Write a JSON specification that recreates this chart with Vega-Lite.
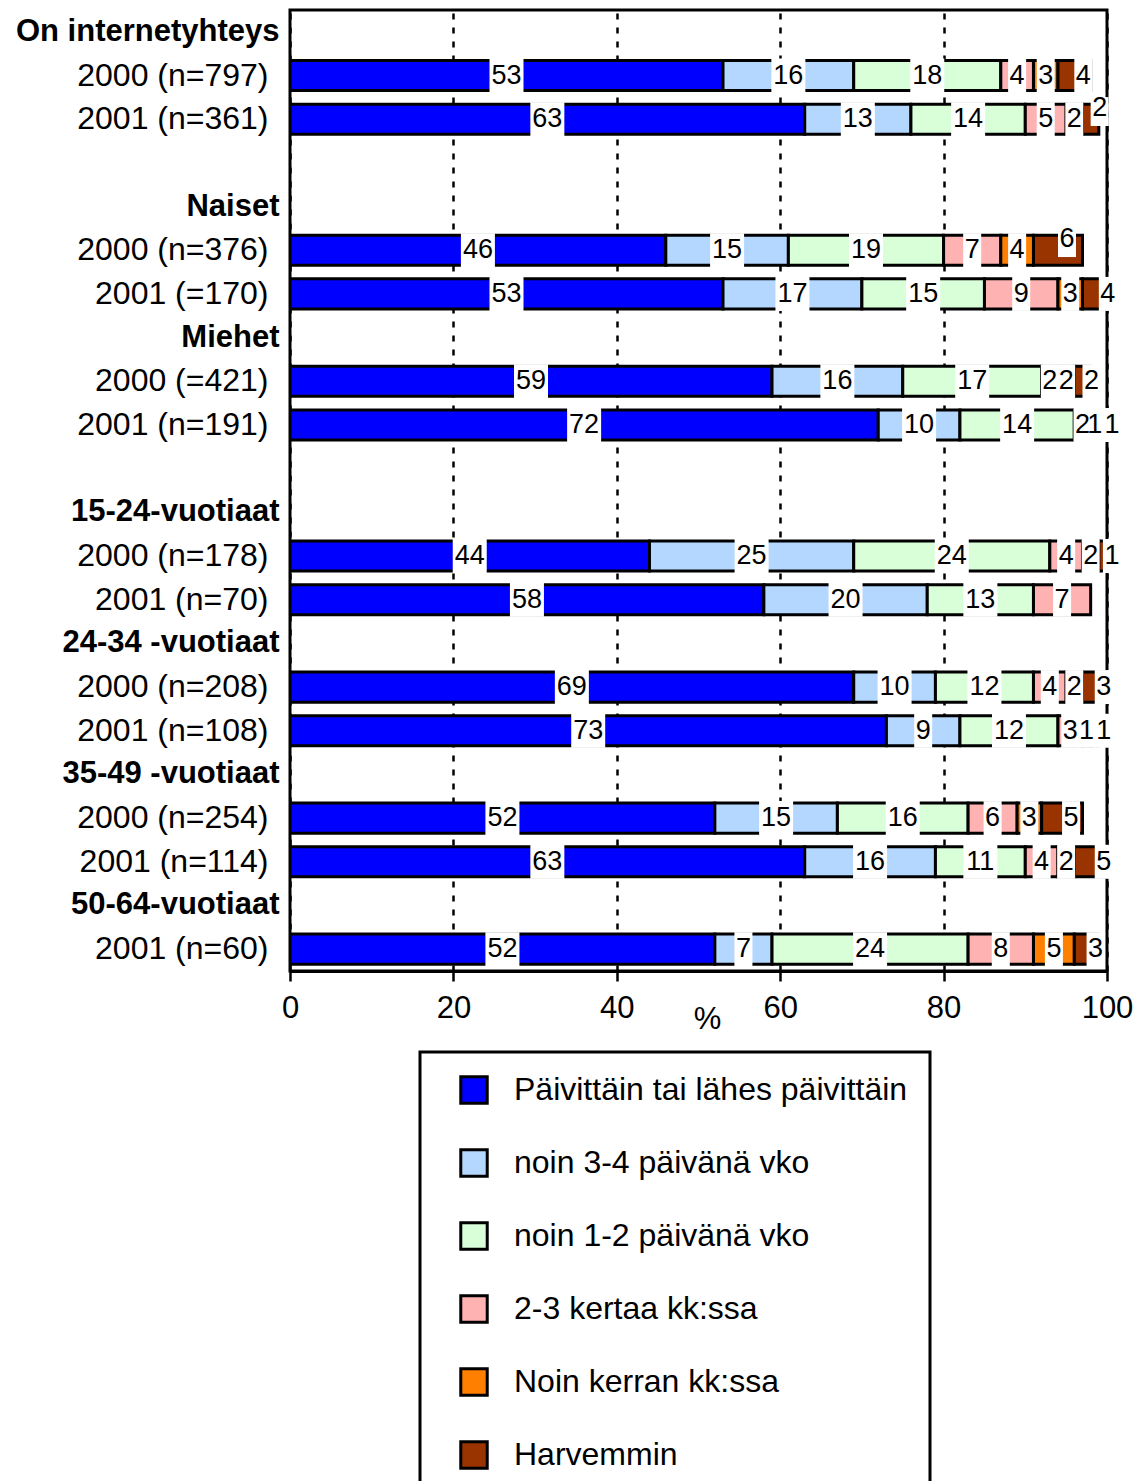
{
  "$schema": "https://vega.github.io/schema/vega-lite/v6.json",
  "autosize": {"type": "none"},
  "padding": {"left": 290, "top": 10, "right": 28, "bottom": 510},
  "width": 817,
  "height": 961,
  "background": "white",
  "config": {
    "font": "Liberation Sans",
    "view": {"stroke": "black", "strokeWidth": 3},
    "legend": {"strokeColor": "black", "strokeWidth": 3}
  },
  "data": {
    "values": [
      {"r": "2000 (n=797)", "k": 1, "c": "Päivittäin tai lähes päivittäin", "v": 53},
      {"r": "2000 (n=797)", "k": 2, "c": "noin 3-4 päivänä vko", "v": 16},
      {"r": "2000 (n=797)", "k": 3, "c": "noin 1-2 päivänä vko", "v": 18},
      {"r": "2000 (n=797)", "k": 4, "c": "2-3 kertaa kk:ssa", "v": 4},
      {"r": "2000 (n=797)", "k": 5, "c": "Noin kerran kk:ssa", "v": 3},
      {"r": "2000 (n=797)", "k": 6, "c": "Harvemmin", "v": 4},
      {"r": "2001 (n=361)", "k": 1, "c": "Päivittäin tai lähes päivittäin", "v": 63},
      {"r": "2001 (n=361)", "k": 2, "c": "noin 3-4 päivänä vko", "v": 13},
      {"r": "2001 (n=361)", "k": 3, "c": "noin 1-2 päivänä vko", "v": 14},
      {"r": "2001 (n=361)", "k": 4, "c": "2-3 kertaa kk:ssa", "v": 5},
      {"r": "2001 (n=361)", "k": 5, "c": "Noin kerran kk:ssa", "v": 2},
      {"r": "2001 (n=361)", "k": 6, "c": "Harvemmin", "v": 2},
      {"r": "2000 (n=376)", "k": 1, "c": "Päivittäin tai lähes päivittäin", "v": 46},
      {"r": "2000 (n=376)", "k": 2, "c": "noin 3-4 päivänä vko", "v": 15},
      {"r": "2000 (n=376)", "k": 3, "c": "noin 1-2 päivänä vko", "v": 19},
      {"r": "2000 (n=376)", "k": 4, "c": "2-3 kertaa kk:ssa", "v": 7},
      {"r": "2000 (n=376)", "k": 5, "c": "Noin kerran kk:ssa", "v": 4},
      {"r": "2000 (n=376)", "k": 6, "c": "Harvemmin", "v": 6},
      {"r": "2001 (=170)", "k": 1, "c": "Päivittäin tai lähes päivittäin", "v": 53},
      {"r": "2001 (=170)", "k": 2, "c": "noin 3-4 päivänä vko", "v": 17},
      {"r": "2001 (=170)", "k": 3, "c": "noin 1-2 päivänä vko", "v": 15},
      {"r": "2001 (=170)", "k": 4, "c": "2-3 kertaa kk:ssa", "v": 9},
      {"r": "2001 (=170)", "k": 5, "c": "Noin kerran kk:ssa", "v": 3},
      {"r": "2001 (=170)", "k": 6, "c": "Harvemmin", "v": 4},
      {"r": "2000 (=421)", "k": 1, "c": "Päivittäin tai lähes päivittäin", "v": 59},
      {"r": "2000 (=421)", "k": 2, "c": "noin 3-4 päivänä vko", "v": 16},
      {"r": "2000 (=421)", "k": 3, "c": "noin 1-2 päivänä vko", "v": 17},
      {"r": "2000 (=421)", "k": 4, "c": "2-3 kertaa kk:ssa", "v": 2},
      {"r": "2000 (=421)", "k": 5, "c": "Noin kerran kk:ssa", "v": 2},
      {"r": "2000 (=421)", "k": 6, "c": "Harvemmin", "v": 2},
      {"r": "2001 (n=191)", "k": 1, "c": "Päivittäin tai lähes päivittäin", "v": 72},
      {"r": "2001 (n=191)", "k": 2, "c": "noin 3-4 päivänä vko", "v": 10},
      {"r": "2001 (n=191)", "k": 3, "c": "noin 1-2 päivänä vko", "v": 14},
      {"r": "2001 (n=191)", "k": 4, "c": "2-3 kertaa kk:ssa", "v": 2},
      {"r": "2001 (n=191)", "k": 5, "c": "Noin kerran kk:ssa", "v": 1},
      {"r": "2001 (n=191)", "k": 6, "c": "Harvemmin", "v": 1},
      {"r": "2000 (n=178)", "k": 1, "c": "Päivittäin tai lähes päivittäin", "v": 44},
      {"r": "2000 (n=178)", "k": 2, "c": "noin 3-4 päivänä vko", "v": 25},
      {"r": "2000 (n=178)", "k": 3, "c": "noin 1-2 päivänä vko", "v": 24},
      {"r": "2000 (n=178)", "k": 4, "c": "2-3 kertaa kk:ssa", "v": 4},
      {"r": "2000 (n=178)", "k": 5, "c": "Noin kerran kk:ssa", "v": 2},
      {"r": "2000 (n=178)", "k": 6, "c": "Harvemmin", "v": 1},
      {"r": "2001 (n=70)", "k": 1, "c": "Päivittäin tai lähes päivittäin", "v": 58},
      {"r": "2001 (n=70)", "k": 2, "c": "noin 3-4 päivänä vko", "v": 20},
      {"r": "2001 (n=70)", "k": 3, "c": "noin 1-2 päivänä vko", "v": 13},
      {"r": "2001 (n=70)", "k": 4, "c": "2-3 kertaa kk:ssa", "v": 7},
      {"r": "2000 (n=208)", "k": 1, "c": "Päivittäin tai lähes päivittäin", "v": 69},
      {"r": "2000 (n=208)", "k": 2, "c": "noin 3-4 päivänä vko", "v": 10},
      {"r": "2000 (n=208)", "k": 3, "c": "noin 1-2 päivänä vko", "v": 12},
      {"r": "2000 (n=208)", "k": 4, "c": "2-3 kertaa kk:ssa", "v": 4},
      {"r": "2000 (n=208)", "k": 5, "c": "Noin kerran kk:ssa", "v": 2},
      {"r": "2000 (n=208)", "k": 6, "c": "Harvemmin", "v": 3},
      {"r": "2001 (n=108)", "k": 1, "c": "Päivittäin tai lähes päivittäin", "v": 73},
      {"r": "2001 (n=108)", "k": 2, "c": "noin 3-4 päivänä vko", "v": 9},
      {"r": "2001 (n=108)", "k": 3, "c": "noin 1-2 päivänä vko", "v": 12},
      {"r": "2001 (n=108)", "k": 4, "c": "2-3 kertaa kk:ssa", "v": 3},
      {"r": "2001 (n=108)", "k": 5, "c": "Noin kerran kk:ssa", "v": 1},
      {"r": "2001 (n=108)", "k": 6, "c": "Harvemmin", "v": 1},
      {"r": "2000 (n=254)", "k": 1, "c": "Päivittäin tai lähes päivittäin", "v": 52},
      {"r": "2000 (n=254)", "k": 2, "c": "noin 3-4 päivänä vko", "v": 15},
      {"r": "2000 (n=254)", "k": 3, "c": "noin 1-2 päivänä vko", "v": 16},
      {"r": "2000 (n=254)", "k": 4, "c": "2-3 kertaa kk:ssa", "v": 6},
      {"r": "2000 (n=254)", "k": 5, "c": "Noin kerran kk:ssa", "v": 3},
      {"r": "2000 (n=254)", "k": 6, "c": "Harvemmin", "v": 5},
      {"r": "2001 (n=114)", "k": 1, "c": "Päivittäin tai lähes päivittäin", "v": 63},
      {"r": "2001 (n=114)", "k": 2, "c": "noin 3-4 päivänä vko", "v": 16},
      {"r": "2001 (n=114)", "k": 3, "c": "noin 1-2 päivänä vko", "v": 11},
      {"r": "2001 (n=114)", "k": 4, "c": "2-3 kertaa kk:ssa", "v": 4},
      {"r": "2001 (n=114)", "k": 5, "c": "Noin kerran kk:ssa", "v": 2},
      {"r": "2001 (n=114)", "k": 6, "c": "Harvemmin", "v": 5},
      {"r": "2001 (n=60)", "k": 1, "c": "Päivittäin tai lähes päivittäin", "v": 52},
      {"r": "2001 (n=60)", "k": 2, "c": "noin 3-4 päivänä vko", "v": 7},
      {"r": "2001 (n=60)", "k": 3, "c": "noin 1-2 päivänä vko", "v": 24},
      {"r": "2001 (n=60)", "k": 4, "c": "2-3 kertaa kk:ssa", "v": 8},
      {"r": "2001 (n=60)", "k": 5, "c": "Noin kerran kk:ssa", "v": 5},
      {"r": "2001 (n=60)", "k": 6, "c": "Harvemmin", "v": 3}
    ]
  },
  "encoding": {
    "y": {
      "field": "r",
      "type": "nominal",
      "title": null,
      "scale": {
        "domain": ["On internetyhteys", "2000 (n=797)", "2001 (n=361)", " ", "Naiset", "2000 (n=376)", "2001 (=170)", "Miehet", "2000 (=421)", "2001 (n=191)", "  ", "15-24-vuotiaat", "2000 (n=178)", "2001 (n=70)", "24-34 -vuotiaat", "2000 (n=208)", "2001 (n=108)", "35-49 -vuotiaat", "2000 (n=254)", "2001 (n=114)", "50-64-vuotiaat", "2001 (n=60)"],
        "paddingInner": 0.31,
        "paddingOuter": 0.155
      },
      "axis": {
        "domain": false,
        "ticks": false,
        "grid": false,
        "labelColor": "black",
        "labelLimit": 400,
        "labelFontSize": {"condition": {"test": "indexof(datum.value, '(') < 0", "value": 31}, "value": 32},
        "labelFontWeight": {"condition": {"test": "indexof(datum.value, '(') < 0", "value": "bold"}, "value": "normal"},
        "labelPadding": {"condition": {"test": "indexof(datum.value, '(') < 0", "value": 11}, "value": 22}
      }
    }
  },
  "layer": [
    {
      "mark": {"type": "bar", "stroke": "black", "strokeWidth": 3, "clip": true},
      "encoding": {
        "x": {
          "field": "v",
          "type": "quantitative",
          "stack": "zero",
          "scale": {"domain": [0, 100]},
          "axis": {
            "title": "%",
            "titleFontSize": 31,
            "titleFontWeight": "normal",
            "titleColor": "black",
            "titlePadding": -19,
            "titleX": 417,
            "values": [0, 20, 40, 60, 80, 100],
            "labelFontSize": 31,
            "labelColor": "black",
            "labelPadding": 12,
            "labelFlush": false,
            "labelOverlap": false,
            "tickSize": 10,
            "tickWidth": 2.5,
            "tickColor": "black",
            "domainColor": "black",
            "domainWidth": 3,
            "grid": true,
            "gridColor": "black",
            "gridDash": [6, 8],
            "gridWidth": 2.5
          }
        },
        "order": {"field": "k", "type": "quantitative"},
        "color": {
          "field": "c",
          "type": "nominal",
          "scale": {
            "domain": ["Päivittäin tai lähes päivittäin", "noin 3-4 päivänä vko", "noin 1-2 päivänä vko", "2-3 kertaa kk:ssa", "Noin kerran kk:ssa", "Harvemmin"],
            "range": ["#0000FF", "#B3D7FF", "#D9FFD9", "#FFB2B2", "#FF8000", "#993300"]
          },
          "legend": {
            "title": null,
            "orient": "none",
            "legendX": 130,
            "legendY": 1042,
            "direction": "vertical",
            "padding": 22,
            "strokeColor": "black",
            "symbolType": "square",
            "symbolSize": 700,
            "symbolStrokeWidth": 3,
            "symbolStrokeColor": "black",
            "symbolOffset": 16,
            "labelFontSize": 32,
            "labelColor": "black",
            "labelOffset": 24,
            "labelLimit": 700,
            "rowPadding": 33
          }
        }
      }
    },
    {
      "mark": {"type": "point", "filled": true, "color": "white", "opacity": 1, "strokeWidth": 0, "size": 1156},
      "encoding": {
        "x": {"field": "v", "type": "quantitative", "stack": "zero", "bandPosition": 0.5},
        "order": {"field": "k", "type": "quantitative"},
        "shape": {
          "condition": [
            {"test": "datum.k == 6 && (datum.r == '2000 (n=376)' || datum.r == '2001 (n=361)')", "value": "M0,-1.3H1.06V0.4H0Z"},
            {"test": "datum.k == 6", "value": "M0,-1H1.06V1H0Z"},
            {"test": "datum.v >= 10", "value": "M-1,-1H1V1H-1Z"}
          ],
          "value": "M-0.53,-1H0.53V1H-0.53Z"
        }
      }
    },
    {
      "mark": {"type": "text", "fontSize": 27, "color": "black", "align": "center", "baseline": "middle"},
      "encoding": {
        "x": {"field": "v", "type": "quantitative", "stack": "zero", "bandPosition": 0.5},
        "order": {"field": "k", "type": "quantitative"},
        "text": {"condition": {"test": "datum.k == 6", "value": ""}, "field": "v", "type": "quantitative"}
      }
    },
    {
      "mark": {"type": "text", "fontSize": 27, "color": "black", "align": "center", "baseline": "middle", "dx": 9},
      "encoding": {
        "x": {"field": "v", "type": "quantitative", "stack": "zero", "bandPosition": 0.5},
        "order": {"field": "k", "type": "quantitative"},
        "text": {"condition": {"test": "datum.k == 6 && datum.r != '2000 (n=376)' && datum.r != '2001 (n=361)'", "field": "v", "type": "quantitative"}, "value": ""}
      }
    },
    {
      "mark": {"type": "text", "fontSize": 27, "color": "black", "align": "center", "baseline": "middle", "dx": 9, "dy": -11},
      "encoding": {
        "x": {"field": "v", "type": "quantitative", "stack": "zero", "bandPosition": 0.5},
        "order": {"field": "k", "type": "quantitative"},
        "text": {"condition": {"test": "datum.k == 6 && (datum.r == '2000 (n=376)' || datum.r == '2001 (n=361)')", "field": "v", "type": "quantitative"}, "value": ""}
      }
    }
  ]
}
